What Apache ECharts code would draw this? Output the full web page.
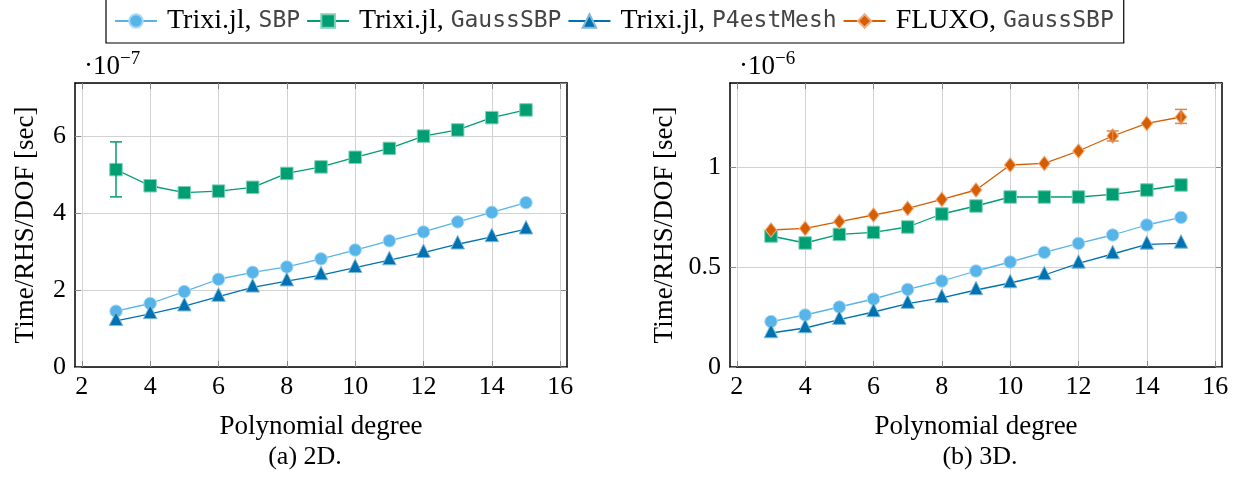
<!DOCTYPE html>
<html>
<head>
<meta charset="utf-8">
<script src="https://cdn.jsdelivr.net/npm/echarts@6/dist/echarts.min.js"></script>
<style>
html, body { margin: 0; padding: 0; background: #fff; }
#chart { width: 1244px; height: 494px; }
</style>
</head>
<body>
<div id="chart"></div>
<script>
//多项式阶数
var degrees = [3, 4, 5, 6, 7, 8, 9, 10, 11, 12, 13, 14, 15];
//2D 结果 (x 1e-7)
var sbp2d = [1.45, 1.65, 1.96, 2.28, 2.46, 2.60, 2.81, 3.04, 3.28, 3.51, 3.77, 4.02, 4.27];
var gauss2d = [5.13, 4.71, 4.53, 4.57, 4.67, 5.03, 5.20, 5.45, 5.68, 6.00, 6.16, 6.48, 6.68];
var p4est2d = [1.20, 1.38, 1.58, 1.83, 2.07, 2.23, 2.39, 2.58, 2.78, 2.97, 3.19, 3.38, 3.58];
//2D 误差线 [x, low, high]
var gaussErr2d = [[3, 4.42, 5.85]];
//3D 结果 (x 1e-6)
var sbp3d = [0.227, 0.26, 0.30, 0.34, 0.388, 0.43, 0.48, 0.525, 0.573, 0.618, 0.66, 0.71, 0.748];
var gauss3d = [0.655, 0.62, 0.663, 0.673, 0.70, 0.765, 0.805, 0.85, 0.85, 0.85, 0.863, 0.885, 0.91];
var p4est3d = [0.17, 0.195, 0.237, 0.275, 0.317, 0.346, 0.385, 0.42, 0.46, 0.518, 0.565, 0.613, 0.618];
var fluxo3d = [0.685, 0.693, 0.727, 0.76, 0.793, 0.838, 0.885, 1.01, 1.018, 1.08, 1.155, 1.218, 1.25];
var fluxoErr3d = [[13, 1.13, 1.18], [15, 1.218, 1.288]];
//坐标轴刻度
var xTickValues = [2, 4, 6, 8, 10, 12, 14, 16];
var xRange = { min: 1.8, max: 16.2 };
var yTicks2d = { min: 0, max: 7.38, interval: 2 };
var yTicks3d = { min: 0, max: 1.42, interval: 0.5 };

var names = ['Trixi.jl, SBP', 'Trixi.jl, GaussSBP', 'Trixi.jl, P4estMesh', 'FLUXO, GaussSBP'];
var colors = ['#56B4E9', '#009E73', '#0072B2', '#D55E00'];
var borders = ['#a9d9f4', '#7fd0b8', '#7fb8d8', '#f0ae80'];
var symbols = ['circle', 'rect', 'triangle', 'diamond'];
var sizes = [12.5, 12.5, 13.5, [11.5, 14.5]];
var offsets = [[0, 0], [0, 0], [0, -2], [0, 0]];

var serif = 'Liberation Serif';
var mono = 'DejaVu Sans Mono';

var pair = function(ys) {
	var out = [];
	for(var i = 0; i < degrees.length; i++) {
		out.push([degrees[i], ys[i]]);
	}
	return out;
};

var lineSeries = function(k, ys, axisIdx) {
	return {
		name: names[k],
		type: 'line',
		xAxisIndex: axisIdx,
		yAxisIndex: axisIdx,
		data: pair(ys),
		symbol: symbols[k],
		symbolSize: sizes[k],
		symbolOffset: offsets[k],
		showAllSymbol: true,
		animation: false,
		lineStyle: { color: colors[k], width: 1.3 },
		itemStyle: { color: colors[k], borderColor: borders[k], borderWidth: 1 },
		z: 3
	};
};

var errSeries = function(data, color, axisIdx) {
	return {
		type: 'custom',
		xAxisIndex: axisIdx,
		yAxisIndex: axisIdx,
		data: data,
		animation: false,
		z: 4,
		renderItem: function(params, api) {
			var lo = api.coord([api.value(0), api.value(1)]);
			var hi = api.coord([api.value(0), api.value(2)]);
			var w = 6;
			var st = { stroke: color, lineWidth: 1.5 };
			return {
				type: 'group',
				children: [
					{ type: 'line', shape: { x1: lo[0], y1: lo[1], x2: hi[0], y2: hi[1] }, style: st },
					{ type: 'line', shape: { x1: lo[0] - w, y1: lo[1], x2: lo[0] + w, y2: lo[1] }, style: st },
					{ type: 'line', shape: { x1: hi[0] - w, y1: hi[1], x2: hi[0] + w, y2: hi[1] }, style: st }
				]
			};
		}
	};
};

var mainX = function(gridIdx) {
	return {
		type: 'value', gridIndex: gridIdx, position: 'bottom',
		min: xRange.min, max: xRange.max,
		name: 'Polynomial degree', nameLocation: 'middle', nameGap: 46,
		nameTextStyle: { fontFamily: serif, fontSize: 27, color: '#000' },
		axisLine: { onZero: false, lineStyle: { color: '#000', width: 1.5 } },
		axisTick: { inside: true, length: 6, customValues: xTickValues, lineStyle: { color: '#888' } },
		axisLabel: { fontFamily: serif, fontSize: 26, color: '#000', margin: 7, customValues: xTickValues },
		splitLine: { show: true, lineStyle: { color: '#d2d2d2', width: 1 } }
	};
};
var topX = function(gridIdx) {
	return {
		type: 'value', gridIndex: gridIdx, position: 'top',
		min: xRange.min, max: xRange.max,
		axisLine: { onZero: false, lineStyle: { color: '#000', width: 1.5 } },
		axisTick: { inside: true, length: 6, customValues: xTickValues, lineStyle: { color: '#888' } },
		axisLabel: { show: false, customValues: xTickValues },
		splitLine: { show: false }
	};
};
var mainY = function(gridIdx, t, gap) {
	return {
		type: 'value', gridIndex: gridIdx, position: 'left',
		min: t.min, max: t.max, interval: t.interval,
		name: 'Time/RHS/DOF [sec]', nameLocation: 'middle', nameGap: gap,
		nameTextStyle: { fontFamily: serif, fontSize: 27, color: '#000' },
		axisLine: { onZero: false, lineStyle: { color: '#000', width: 1.5 } },
		axisTick: { inside: true, length: 6, lineStyle: { color: '#888' } },
		axisLabel: { fontFamily: serif, fontSize: 26, color: '#000', margin: 9, showMaxLabel: false },
		splitLine: { show: true, lineStyle: { color: '#d2d2d2', width: 1 } }
	};
};
var rightY = function(gridIdx, t) {
	return {
		type: 'value', gridIndex: gridIdx, position: 'right',
		min: t.min, max: t.max, interval: t.interval,
		axisLine: { onZero: false, lineStyle: { color: '#000', width: 1.5 } },
		axisTick: { inside: true, length: 6, lineStyle: { color: '#888' } },
		axisLabel: { show: false },
		splitLine: { show: false }
	};
};

var chart = echarts.init(document.getElementById('chart'));
chart.setOption({
	backgroundColor: '#fff',
	animation: false,
	legend: {
		data: names,
		left: 106,
		top: -1,
		orient: 'horizontal',
		backgroundColor: '#fff',
		borderColor: '#000',
		borderWidth: 1.2,
		borderRadius: 0,
		padding: [8, 10, 8, 8],
		itemWidth: 42,
		itemHeight: 17,
		itemGap: 6,
		selectedMode: false,
		formatter: function(name) {
			var p = name.split(', ');
			return '{a|' + p[0] + ', }{b|' + p[1] + '}';
		},
		textStyle: {
			rich: {
				a: { fontFamily: serif, fontSize: 28, color: '#000', padding: [0, 0, 0, 5] },
				b: { fontFamily: mono, fontSize: 23, color: '#444' }
			}
		}
	},
	title: [
		{ text: '(a) 2D.', left: 300, top: 439, textAlign: 'center',
			textStyle: { fontFamily: serif, fontSize: 26, fontWeight: 'normal', color: '#000' } },
		{ text: '(b) 3D.', left: 975, top: 439, textAlign: 'center',
			textStyle: { fontFamily: serif, fontSize: 26, fontWeight: 'normal', color: '#000' } }
	],
	graphic: [
		{ type: 'text', left: 84, top: 50, style: { text: '·10{s|−7}', fontFamily: serif, fontSize: 27, fill: '#000',
			rich: { s: { fontFamily: serif, fontSize: 19, verticalAlign: 'top', padding: [0, 0, 14, 0] } } } },
		{ type: 'text', left: 739, top: 50, style: { text: '·10{s|−6}', fontFamily: serif, fontSize: 27, fill: '#000',
			rich: { s: { fontFamily: serif, fontSize: 19, verticalAlign: 'top', padding: [0, 0, 14, 0] } } } }
	],
	grid: [
		{ left: 75, top: 83, width: 492, height: 284 },
		{ left: 730, top: 83, width: 492, height: 284 }
	],
	xAxis: [mainX(0), topX(0), mainX(1), topX(1)],
	yAxis: [mainY(0, yTicks2d, 36), rightY(0, yTicks2d), mainY(1, yTicks3d, 52), rightY(1, yTicks3d)],
	series: [
		lineSeries(0, sbp2d, 0),
		lineSeries(1, gauss2d, 0),
		lineSeries(2, p4est2d, 0),
		errSeries(gaussErr2d, colors[1], 0),
		lineSeries(0, sbp3d, 2),
		lineSeries(1, gauss3d, 2),
		lineSeries(2, p4est3d, 2),
		lineSeries(3, fluxo3d, 2),
		errSeries(fluxoErr3d, '#e0864a', 2)
	]
});
</script>
</body>
</html>
